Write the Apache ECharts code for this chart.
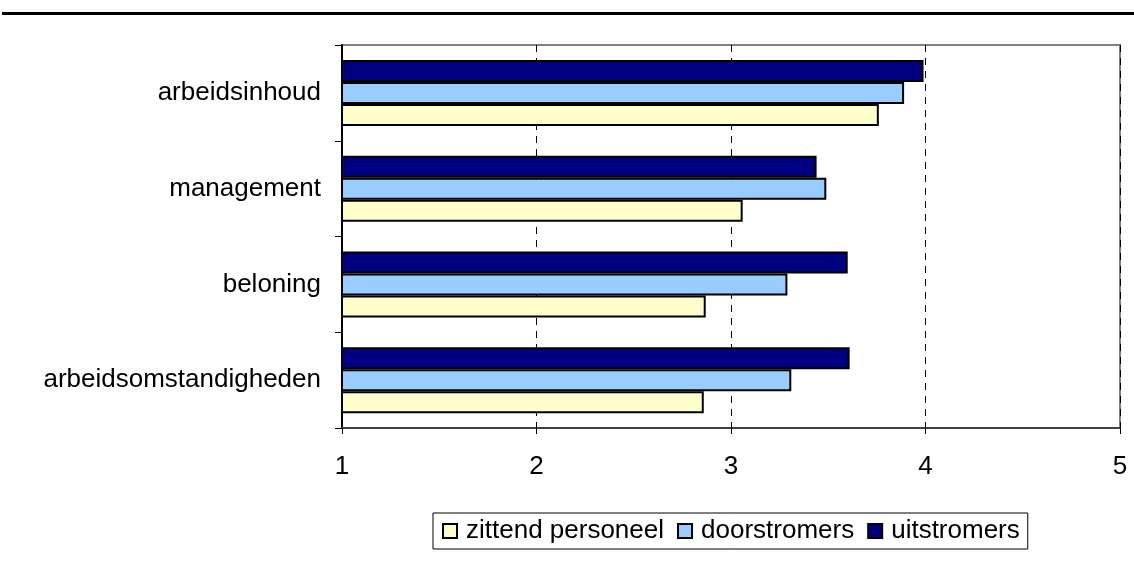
<!DOCTYPE html>
<html>
<head>
<meta charset="utf-8">
<script src="https://cdn.jsdelivr.net/npm/echarts@6/dist/echarts.min.js"></script>
<style>html,body{margin:0;padding:0;background:#fff}#c{width:1134px;height:580px}</style>
</head>
<body>
<div id="c"></div>
<script>
// Categories listed bottom to top
const categories = ['arbeidsomstandigheden', 'beloning', 'management', 'arbeidsinhoud'];
const zittendPersoneel = [2.86, 2.87, 3.06, 3.76];
const doorstromers = [3.31, 3.29, 3.49, 3.89];
const uitstromers = [3.61, 3.60, 3.44, 3.99];
const seriesNames = ['zittend personeel', 'doorstromers', 'uitstromers'];
const xTicks = [1, 2, 3, 4, 5];

const FONT = '"Liberation Sans", Arial, sans-serif';
const chart = echarts.init(document.getElementById('c'));
const colors = ['#FFFFCC', '#99CCFF', '#000080'];
const values = [zittendPersoneel, doorstromers, uitstromers];
// draw order: uitstromers first so it appears on top within each category
const drawOrder = [2, 1, 0];

chart.setOption({
  animation: false,
  textStyle: { fontFamily: FONT },
  graphic: [{
    type: 'rect', shape: { x: 2, y: 12, width: 1132, height: 3 },
    style: { fill: '#000' }, silent: true
  }],
  grid: {
    left: 342, right: 14, top: 45, bottom: 152,
    show: true, borderColor: '#808080', borderWidth: 2, backgroundColor: '#fff'
  },
  legend: {
    data: seriesNames,
    left: 433, top: 513,
    padding: [5, 8, 5, 9],
    borderColor: '#000', borderWidth: 1,
    itemWidth: 14, itemHeight: 14, itemGap: 13,
    icon: 'rect',
    itemStyle: { borderColor: '#000', borderWidth: 2 },
    textStyle: { fontFamily: FONT, fontSize: 26, color: '#000', padding: [0, 0, 0, 4] }
  },
  xAxis: {
    type: 'value', min: 1, max: 5, interval: 1,
    axisLine: { show: true, lineStyle: { color: '#404040', width: 2 } },
    axisTick: { show: true, length: 6, lineStyle: { color: '#000' } },
    axisLabel: { color: '#000', fontSize: 26, margin: 26, fontFamily: FONT,
      formatter: v => xTicks.includes(v) ? String(v) : '' },
    splitLine: { show: true, lineStyle: { color: '#000', type: [7, 6], width: 1 } }
  },
  yAxis: {
    type: 'category', data: categories,
    axisLine: { show: true, lineStyle: { color: '#000', width: 2 } },
    axisTick: { show: true, length: 7, lineStyle: { color: '#000' } },
    axisLabel: { color: '#000', fontSize: 26, margin: 21, fontFamily: FONT }
  },
  series: drawOrder.map(i => ({
    name: seriesNames[i], type: 'bar', data: values[i],
    barWidth: 22, barGap: '0%',
    itemStyle: { color: colors[i], borderColor: '#000', borderWidth: 2 }
  }))
});
</script>
</body>
</html>
